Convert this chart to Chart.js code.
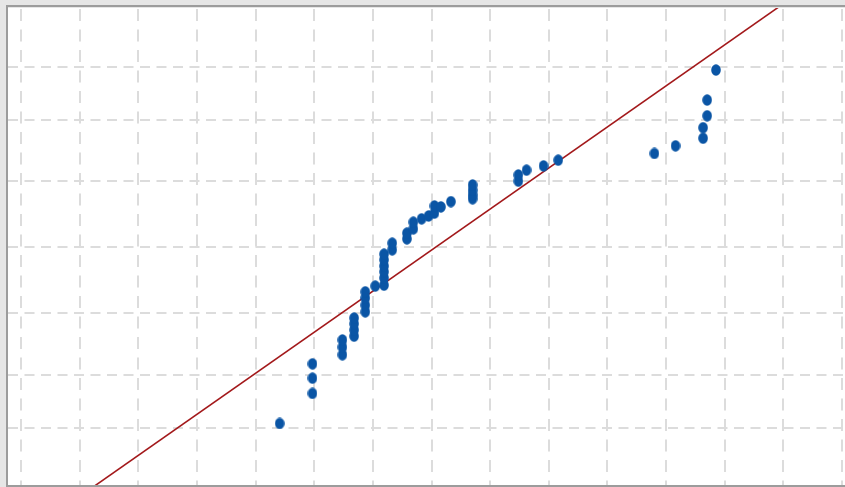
<!DOCTYPE html>
<html>
<head>
<meta charset="utf-8">
<script src="https://cdn.jsdelivr.net/npm/chart.js@4/dist/chart.umd.min.js"></script>
<style>
  html, body { margin: 0; padding: 0; background: #e6e6e6; }
  #plot { display: block; }
</style>
</head>
<body>
<canvas id="plot" width="845" height="487"></canvas>
<script>
// Grid positions (axis units)
const xGrid = [0, 1, 2, 3, 4, 5, 6, 7, 8, 9, 10, 11, 12, 13, 14];
const yGrid = [11.9, 23.1, 36.1, 50.0, 63.8, 76.5, 87.6];

// Observations
const obsX = [
  4.41,
  4.97, 4.97, 4.97,
  5.48, 5.48, 5.48,
  5.68, 5.68, 5.68, 5.68,
  5.87, 5.87, 5.87, 5.87,
  6.04,
  6.19, 6.19, 6.19, 6.19, 6.19, 6.19,
  6.33, 6.33,
  6.58, 6.58,
  6.69, 6.69,
  6.83, 6.95,
  7.05, 7.05,
  7.16, 7.33,
  7.70, 7.70, 7.70, 7.70,
  8.48, 8.48,
  8.62, 8.91, 9.16,
  10.80, 11.16,
  11.63, 11.63,
  11.70, 11.70,
  11.85
];
const obsY = [
  12.9,
  19.2, 22.4, 25.4,
  27.3, 28.9, 30.4,
  31.2, 32.5, 33.8, 35.0,
  36.3, 37.7, 39.2, 40.5,
  41.7,
  41.9, 43.4, 44.7, 45.9, 47.2, 48.4,
  49.3, 50.7,
  51.6, 52.8,
  53.7, 55.1,
  55.8, 56.4,
  57.0, 58.5,
  58.3, 59.4,
  60.0, 60.8, 61.8, 62.9,
  63.7, 65.0,
  66.0, 66.9, 68.1,
  69.5, 71.1,
  72.7, 74.9,
  77.4, 80.7,
  87.0
];

// Fitted reference line
const fitX = [1, 13];
const fitY = [-2.4, 100.9];

const pts = obsX.map((x, i) => ({ x: x, y: obsY[i] }));
const fit = fitX.map((x, i) => ({ x: x, y: fitY[i] }));

// Slightly tall oval marker
const marker = document.createElement('canvas');
marker.width = 10;
marker.height = 12;
(function () {
  const c = marker.getContext('2d');
  c.fillStyle = '#0a55a5';
  c.beginPath();
  c.ellipse(5, 6, 4.8, 5.8, 0, 0, Math.PI * 2);
  c.fill();
})();

// Frame: grey surround, white plot area, darker edge lines
const frame = {
  id: 'frame',
  beforeDraw(chart) {
    const ctx = chart.ctx;
    const a = chart.chartArea;
    ctx.save();
    ctx.fillStyle = '#e6e6e6';
    ctx.fillRect(0, 0, chart.width, chart.height);
    ctx.fillStyle = '#ffffff';
    ctx.fillRect(a.left, a.top, a.right - a.left, a.bottom - a.top);
    ctx.fillStyle = '#9c9c9c';
    ctx.fillRect(a.left - 2, a.top - 3, chart.width - a.left + 2, 2);
    ctx.fillRect(a.left - 2, a.top - 3, 2, a.bottom - a.top + 5);
    ctx.fillRect(a.left - 2, a.bottom, chart.width - a.left + 2, 2);
    ctx.restore();
  }
};

new Chart(document.getElementById('plot'), {
  type: 'scatter',
  data: {
    datasets: [
      {
        data: pts,
        pointStyle: marker,
        pointRadius: 5,
        pointHoverRadius: 5,
        order: 1
      },
      {
        type: 'line',
        data: fit,
        borderColor: '#a3191b',
        borderWidth: 1.6,
        pointRadius: 0,
        fill: false,
        order: 2
      }
    ]
  },
  options: {
    responsive: false,
    animation: false,
    devicePixelRatio: 1,
    layout: { autoPadding: false, padding: { left: 8, top: 8, right: 0, bottom: 2 } },
    plugins: { legend: { display: false }, tooltip: { enabled: false } },
    scales: {
      x: {
        type: 'linear',
        min: -0.2217,
        max: 14.05,
        afterBuildTicks: (s) => { s.ticks = xGrid.map(v => ({ value: v })); },
        ticks: { display: false },
        grid: { color: '#dcdcdc', lineWidth: 2, drawTicks: false },
        border: { display: false, dash: [12, 8.5], dashOffset: -1 }
      },
      y: {
        type: 'linear',
        min: 0,
        max: 100,
        afterBuildTicks: (s) => { s.ticks = yGrid.map(v => ({ value: v })); },
        ticks: { display: false },
        grid: { color: '#dcdcdc', lineWidth: 2, drawTicks: false },
        border: { display: false, dash: [10, 6.5] }
      }
    }
  },
  plugins: [frame]
});
</script>
</body>
</html>
